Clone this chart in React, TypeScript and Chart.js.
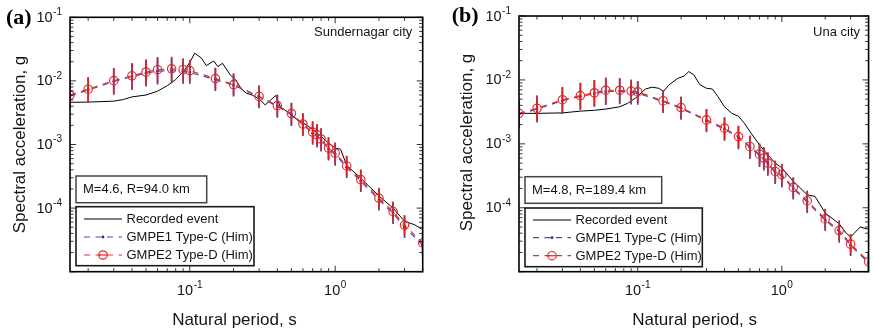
import React, { useEffect, useRef } from 'react';
import { Chart, registerables } from 'chart.js';

Chart.register(...registerables);

// ---------------- DATA ----------------
const PERIODS = [0.015, 0.02, 0.03, 0.04, 0.05, 0.06, 0.075, 0.09, 0.1, 0.15, 0.2, 0.3, 0.4, 0.5, 0.6, 0.7, 0.75, 0.8, 0.9, 1.0, 1.2, 1.5, 2.0, 2.5, 3.0, 4.0];

// Panel (a) Sundernagar city
const GMPE2_A = [6.0e-3, 7.4e-3, 1.01e-2, 1.2e-2, 1.38e-2, 1.5e-2, 1.55e-2, 1.5e-2, 1.45e-2, 1.09e-2, 8.75e-3, 5.7e-3, 4.1e-3, 3.07e-3, 2.1e-3, 1.57e-3, 1.42e-3, 1.22e-3, 8.8e-4, 7.3e-4, 4.6e-4, 2.8e-4, 1.44e-4, 8.8e-5, 5.4e-5, 2.83e-5];
const GMPE1_A = [5.8e-3, 7.2e-3, 9.8e-3, 1.17e-2, 1.32e-2, 1.42e-2, 1.45e-2, 1.4e-2, 1.36e-2, 1.05e-2, 8.6e-3, 5.6e-3, 4.0e-3, 2.95e-3, 2.05e-3, 1.5e-3, 1.36e-3, 1.18e-3, 8.5e-4, 7.0e-4, 4.4e-4, 2.65e-4, 1.35e-4, 8.3e-5, 5.0e-5, 2.6e-5];
const SIG2_A = [0.2, 0.19, 0.2, 0.2, 0.2, 0.2, 0.19, 0.18, 0.17, 0.17, 0.17, 0.17, 0.17, 0.17, 0.17, 0.17, 0.17, 0.17, 0.17, 0.17, 0.16, 0.16, 0.16, 0.16, 0.16, 0.16];
const SIG1_A = [0.21, 0.2, 0.21, 0.21, 0.21, 0.21, 0.2, 0.19, 0.18, 0.18, 0.18, 0.18, 0.18, 0.18, 0.18, 0.18, 0.18, 0.18, 0.18, 0.18, 0.17, 0.17, 0.17, 0.17, 0.17, 0.17];
const REC_T_A = [0.015, 0.02, 0.03, 0.035, 0.04, 0.05, 0.06, 0.07, 0.08, 0.09, 0.1, 0.108, 0.12, 0.13, 0.146, 0.156, 0.168, 0.19, 0.207, 0.225, 0.245, 0.268, 0.3, 0.33, 0.36, 0.39, 0.42, 0.45, 0.5, 0.55, 0.6, 0.7, 0.8, 0.9, 1.0, 1.09, 1.2, 1.5, 2.0, 2.5, 3.0, 3.5, 4.0];
const REC_A = [4.6e-3, 4.65e-3, 4.8e-3, 5.1e-3, 5.6e-3, 6.0e-3, 6.9e-3, 8.4e-3, 1.05e-2, 1.4e-2, 1.95e-2, 2.72e-2, 2.3e-2, 1.74e-2, 2.06e-2, 1.68e-2, 1.89e-2, 1.24e-2, 1.04e-2, 7.6e-3, 6.4e-3, 6.0e-3, 5.2e-3, 4.2e-3, 5.0e-3, 5.9e-3, 3.9e-3, 3.5e-3, 2.9e-3, 2.45e-3, 2.2e-3, 1.74e-3, 1.34e-3, 1.05e-3, 8.8e-4, 8.4e-4, 4.7e-4, 2.95e-4, 1.55e-4, 1.0e-4, 6.2e-5, 5.5e-5, 4.6e-5];

// Panel (b) Una city
const GMPE2_B = [3.0e-3, 3.6e-3, 4.9e-3, 5.7e-3, 6.3e-3, 6.9e-3, 6.9e-3, 6.7e-3, 6.5e-3, 4.7e-3, 3.7e-3, 2.37e-3, 1.76e-3, 1.3e-3, 9.1e-4, 6.9e-4, 6.0e-4, 5.0e-4, 3.7e-4, 3.3e-4, 2.08e-4, 1.29e-4, 6.7e-5, 4.4e-5, 2.7e-5, 1.44e-5];
const GMPE1_B = [2.9e-3, 3.5e-3, 4.75e-3, 5.5e-3, 6.1e-3, 6.6e-3, 6.6e-3, 6.4e-3, 6.2e-3, 4.6e-3, 3.6e-3, 2.3e-3, 1.7e-3, 1.25e-3, 8.8e-4, 6.6e-4, 5.8e-4, 4.8e-4, 3.55e-4, 3.15e-4, 2.0e-4, 1.23e-4, 6.4e-5, 4.2e-5, 2.6e-5, 1.38e-5];
const SIG2_B = [0.2, 0.2, 0.2, 0.2, 0.2, 0.2, 0.19, 0.18, 0.17, 0.17, 0.17, 0.17, 0.17, 0.17, 0.17, 0.17, 0.17, 0.17, 0.17, 0.17, 0.16, 0.16, 0.16, 0.16, 0.16, 0.16];
const SIG1_B = [0.21, 0.21, 0.21, 0.21, 0.21, 0.21, 0.2, 0.19, 0.18, 0.18, 0.18, 0.18, 0.18, 0.18, 0.18, 0.18, 0.18, 0.18, 0.18, 0.18, 0.17, 0.17, 0.17, 0.17, 0.17, 0.17];
const REC_T_B = [0.015, 0.02, 0.03, 0.04, 0.05, 0.06, 0.075, 0.085, 0.0964, 0.113, 0.126, 0.14, 0.151, 0.164, 0.19, 0.21, 0.226, 0.245, 0.27, 0.3, 0.33, 0.36, 0.4, 0.45, 0.5, 0.55, 0.6, 0.7, 0.8, 0.9, 1.0, 1.2, 1.5, 1.7, 2.0, 2.5, 2.8, 3.0, 3.5, 4.0];
const REC_B = [3.0e-3, 3.0e-3, 3.05e-3, 3.25e-3, 3.35e-3, 3.5e-3, 3.8e-3, 4.3e-3, 5.2e-3, 7.2e-3, 7.7e-3, 7.4e-3, 6.6e-3, 8.3e-3, 1.06e-2, 1.15e-2, 1.35e-2, 1.2e-2, 8.4e-3, 7.4e-3, 7.2e-3, 5.5e-3, 3.8e-3, 3.0e-3, 2.7e-3, 2.1e-3, 1.56e-3, 9.6e-4, 6.7e-4, 5.0e-4, 4.2e-4, 2.6e-4, 1.6e-4, 1.5e-4, 8.3e-5, 5.6e-5, 4.0e-5, 3.5e-5, 5.0e-5, 4.6e-5];

const X_MIN = 0.015;
const X_MAX = 4;
const Y_MIN = 1e-5;
const Y_MAX = 1e-1;
const X_LABEL_EXP = [-1, 0];
const Y_LABEL_EXP = [-1, -2, -3, -4];
const LEGEND_LABELS = ['Recorded event', 'GMPE1 Type-C (Him)', 'GMPE2 Type-D (Him)'];
const X_TITLE = 'Natural period, s';
const Y_TITLE = 'Spectral acceleration, g';

// ---------------- STYLE ----------------
const FONT = '"Liberation Sans", Arial, Helvetica, sans-serif';
const RED = '#e62e2e';
const RED_BAR = '#dc2323';
const BLUE = '#4646c0';
const BLUE_BAR = '#46409e';
const TEXT = '#141414';

type PanelCfg = {
  letter: string; city: string; info: string;
  recT: number[]; rec: number[]; g1: number[]; g2: number[]; s1: number[]; s2: number[];
  left: number; width: number;
  area: { left: number; right: number; top: number; bottom: number };
  yTitleX: number; yTitleY: number; xTitleX: number;
  letterX: number; letterY: number; cityRight: number;
  infoBox: { x: number; y: number; w: number; h: number };
  legBox: { x: number; y: number; w: number; h: number; rows: number[] };
};

const PANELS: PanelCfg[] = [
  {
    letter: '(a)', city: 'Sundernagar city', info: 'M=4.6, R=94.0 km',
    recT: REC_T_A, rec: REC_A, g1: GMPE1_A, g2: GMPE2_A, s1: SIG1_A, s2: SIG2_A,
    left: 0, width: 440,
    area: { left: 70, right: 422.7, top: 17.3, bottom: 271.7 },
    yTitleX: 20.8, yTitleY: 144.5, xTitleX: 234.5,
    letterX: 6, letterY: 17.5, cityRight: 412.3,
    infoBox: { x: 76, y: 176, w: 130.7, h: 26.7 },
    legBox: { x: 76, y: 206.7, w: 178, h: 59, rows: [219, 237, 255] },
  },
  {
    letter: '(b)', city: 'Una city', info: 'M=4.8, R=189.4 km',
    recT: REC_T_B, rec: REC_B, g1: GMPE1_B, g2: GMPE2_B, s1: SIG1_B, s2: SIG2_B,
    left: 440, width: 434,
    area: { left: 79, right: 430.7, top: 16, bottom: 271.7 },
    yTitleX: 27.3, yTitleY: 142.5, xTitleX: 254.7,
    letterX: 11.7, letterY: 15, cityRight: 420,
    infoBox: { x: 85, y: 176.7, w: 136.7, h: 26.6 },
    legBox: { x: 85, y: 208, w: 177.3, h: 58.7, rows: [220, 237.7, 255.7] },
  },
];

const H = 333;

function pts(xs: number[], ys: number[]) {
  return xs.map((x, i) => ({ x, y: ys[i] }));
}

function Panel({ cfg }: { cfg: PanelCfg }) {
  const ref = useRef<HTMLCanvasElement>(null);
  useEffect(() => {
    const canvas = ref.current!;
    const errPlugin = {
      id: 'errbars',
      afterDatasetsDraw(chart: any) {
        const { ctx, chartArea: a, scales } = chart;
        const xs = scales.x, ys = scales.y;
        ctx.save();
        ctx.beginPath();
        ctx.rect(a.left, a.top, a.right - a.left, a.bottom - a.top);
        ctx.clip();
        const bars = (vals: number[], sig: number[], color: string) => {
          ctx.strokeStyle = color;
          ctx.lineWidth = 1.7;
          ctx.setLineDash([]);
          PERIODS.forEach((t, i) => {
            const px = xs.getPixelForValue(t);
            const f = Math.pow(10, sig[i]);
            ctx.beginPath();
            ctx.moveTo(px, ys.getPixelForValue(vals[i] / f));
            ctx.lineTo(px, ys.getPixelForValue(vals[i] * f));
            ctx.stroke();
          });
        };
        bars(cfg.g1, cfg.s1, BLUE_BAR);
        bars(cfg.g2, cfg.s2, RED_BAR);
        ctx.restore();
      },
    };
    const decorPlugin = {
      id: 'decor',
      afterDraw(chart: any) {
        const { ctx, chartArea: a, scales } = chart;
        const xs = scales.x, ys = scales.y;
        ctx.save();
        ctx.setLineDash([]);
        // ticks
        ctx.strokeStyle = '#000';
        ctx.lineWidth = 0.8;
        const yTick = (v: number, len: number) => {
          const py = ys.getPixelForValue(v);
          ctx.beginPath();
          ctx.moveTo(a.left, py); ctx.lineTo(a.left + len, py);
          ctx.moveTo(a.right, py); ctx.lineTo(a.right - len, py);
          ctx.stroke();
        };
        const xTick = (v: number, len: number) => {
          const px = xs.getPixelForValue(v);
          ctx.beginPath();
          ctx.moveTo(px, a.bottom); ctx.lineTo(px, a.bottom - len);
          ctx.moveTo(px, a.top); ctx.lineTo(px, a.top + len);
          ctx.stroke();
        };
        for (let e = -5; e <= -1; e++) {
          for (let m = 1; m <= 9; m++) {
            const v = m * Math.pow(10, e);
            if (v < Y_MIN * 0.999 || v > Y_MAX * 1.001) continue;
            yTick(v, m === 1 ? 6 : 3.5);
          }
        }
        for (let e = -2; e <= 0; e++) {
          for (let m = 1; m <= 9; m++) {
            const v = m * Math.pow(10, e);
            if (v < X_MIN * 0.999 || v > X_MAX * 1.001) continue;
            xTick(v, m === 1 ? 6 : 3.5);
          }
        }
        // box
        ctx.lineWidth = 1.6;
        ctx.strokeStyle = '#000';
        ctx.strokeRect(a.left, a.top, a.right - a.left, a.bottom - a.top);

        // tick labels
        ctx.fillStyle = TEXT;
        const baseFont = '14.5px ' + FONT;
        const supFont = '10px ' + FONT;
        ctx.textBaseline = 'middle';
        Y_LABEL_EXP.forEach((e) => {
          const py = ys.getPixelForValue(Math.pow(10, e));
          const sup = String(e);
          ctx.font = supFont;
          const ws = ctx.measureText(sup).width;
          const xEnd = a.left - 8;
          ctx.textAlign = 'left';
          ctx.fillText(sup, xEnd - ws, py - 5);
          ctx.font = baseFont;
          ctx.textAlign = 'right';
          ctx.fillText('10', xEnd - ws - 0.5, py + 0.5);
        });
        X_LABEL_EXP.forEach((e) => {
          const px = xs.getPixelForValue(Math.pow(10, e));
          const sup = String(e);
          ctx.font = supFont;
          const ws = ctx.measureText(sup).width;
          ctx.font = baseFont;
          const w10 = ctx.measureText('10').width;
          const x0 = px - (w10 + ws + 0.5) / 2;
          ctx.textAlign = 'left';
          ctx.fillText('10', x0, 291);
          ctx.font = supFont;
          ctx.fillText(sup, x0 + w10 + 0.5, 285.5);
        });

        // axis titles
        ctx.font = '17px ' + FONT;
        ctx.textAlign = 'center';
        ctx.textBaseline = 'alphabetic';
        ctx.fillText(X_TITLE, cfg.xTitleX, 324.5);
        ctx.save();
        ctx.translate(cfg.yTitleX, cfg.yTitleY);
        ctx.rotate(-Math.PI / 2);
        ctx.textBaseline = 'middle';
        ctx.fillText(Y_TITLE, 0, 0);
        ctx.restore();

        // panel letter
        ctx.font = 'bold 22px "Liberation Serif", "Times New Roman", serif';
        ctx.textAlign = 'left';
        ctx.textBaseline = 'middle';
        ctx.fillStyle = '#000';
        ctx.fillText(cfg.letter, cfg.letterX, cfg.letterY + 1);

        // city
        ctx.font = '13px ' + FONT;
        ctx.fillStyle = TEXT;
        ctx.textAlign = 'right';
        ctx.fillText(cfg.city, cfg.cityRight, 32);

        // info box
        const ib = cfg.infoBox;
        ctx.fillStyle = '#fff';
        ctx.fillRect(ib.x, ib.y, ib.w, ib.h);
        ctx.strokeStyle = '#444';
        ctx.lineWidth = 1.5;
        ctx.strokeRect(ib.x, ib.y, ib.w, ib.h);
        ctx.fillStyle = TEXT;
        ctx.textAlign = 'left';
        ctx.fillText(cfg.info, ib.x + 7, ib.y + ib.h / 2 + 0.5);

        // legend
        const lb = cfg.legBox;
        ctx.fillStyle = '#fff';
        ctx.fillRect(lb.x, lb.y, lb.w, lb.h);
        ctx.strokeStyle = '#1a1a1a';
        ctx.lineWidth = 1.6;
        ctx.strokeRect(lb.x, lb.y, lb.w, lb.h);
        const sx1 = lb.x + 8, sx2 = lb.x + 46, smid = (sx1 + sx2) / 2;
        // row 1
        ctx.strokeStyle = '#000';
        ctx.lineWidth = 1;
        ctx.beginPath(); ctx.moveTo(sx1, lb.rows[0]); ctx.lineTo(sx2, lb.rows[0]); ctx.stroke();
        // row 2
        ctx.strokeStyle = BLUE;
        ctx.lineWidth = 1.2;
        ctx.setLineDash([6, 5.5]);
        ctx.beginPath(); ctx.moveTo(sx1, lb.rows[1]); ctx.lineTo(sx2, lb.rows[1]); ctx.stroke();
        ctx.setLineDash([]);
        ctx.fillStyle = '#2a2a90';
        ctx.beginPath(); ctx.arc(smid, lb.rows[1], 1.4, 0, Math.PI * 2); ctx.fill();
        // row 3
        ctx.strokeStyle = RED;
        ctx.setLineDash([6, 5.5]);
        ctx.beginPath(); ctx.moveTo(sx1, lb.rows[2]); ctx.lineTo(sx2, lb.rows[2]); ctx.stroke();
        ctx.setLineDash([]);
        ctx.lineWidth = 1.2;
        ctx.beginPath(); ctx.arc(smid, lb.rows[2], 4.2, 0, Math.PI * 2); ctx.stroke();
        ctx.beginPath(); ctx.moveTo(smid - 4.2, lb.rows[2]); ctx.lineTo(smid + 4.2, lb.rows[2]); ctx.stroke();
        // labels
        ctx.fillStyle = TEXT;
        ctx.font = '13px ' + FONT;
        ctx.textAlign = 'left';
        ctx.textBaseline = 'middle';
        LEGEND_LABELS.forEach((l, i) => ctx.fillText(l, lb.x + 50.5, lb.rows[i] + 0.5));
        ctx.restore();
      },
    };

    const chart = new Chart(canvas, {
      type: 'scatter',
      data: {
        datasets: [
          {
            label: LEGEND_LABELS[2],
            data: pts(PERIODS, cfg.g2),
            showLine: true,
            borderColor: RED,
            borderWidth: 1.2,
            borderDash: [6, 5.5],
            pointStyle: 'circle',
            pointRadius: 4.2,
            pointBorderWidth: 1.2,
            pointBorderColor: RED,
            pointBackgroundColor: 'rgba(0,0,0,0)',
          },
          {
            label: LEGEND_LABELS[1],
            data: pts(PERIODS, cfg.g1),
            showLine: true,
            borderColor: BLUE,
            borderWidth: 1.2,
            borderDash: [6, 5.5],
            pointRadius: 1.4,
            pointBorderWidth: 0,
            pointBackgroundColor: '#2a2a90',
          },
          {
            label: LEGEND_LABELS[0],
            data: pts(cfg.recT, cfg.rec),
            showLine: true,
            borderColor: '#000',
            borderWidth: 1,
            pointRadius: 0,
          },
        ],
      },
      options: {
        animation: false,
        responsive: false,
        devicePixelRatio: 1,
        layout: {
          padding: { left: 0, top: cfg.area.top, right: cfg.width - cfg.area.right, bottom: 0 },
        },
        plugins: { legend: { display: false }, tooltip: { enabled: false } },
        scales: {
          x: {
            type: 'logarithmic',
            min: X_MIN,
            max: X_MAX,
            grid: { display: false },
            border: { display: false },
            ticks: { display: false },
            afterFit: (s: any) => { s.height = H - cfg.area.bottom; },
          },
          y: {
            type: 'logarithmic',
            min: Y_MIN,
            max: Y_MAX,
            grid: { display: false },
            border: { display: false },
            ticks: { display: false },
            afterFit: (s: any) => { s.width = cfg.area.left; },
          },
        },
      } as any,
      plugins: [errPlugin, decorPlugin],
    });
    return () => chart.destroy();
  }, [cfg]);
  return (
    <canvas
      ref={ref}
      width={cfg.width}
      height={H}
      style={{ position: 'absolute', left: cfg.left, top: 0, width: cfg.width, height: H, display: 'block' }}
    />
  );
}

export default function App() {
  return (
    <div style={{ position: 'absolute', left: 0, top: 0, width: 874, height: H, background: '#fff', overflow: 'hidden' }}>
      {PANELS.map((p) => (
        <Panel key={p.letter} cfg={p} />
      ))}
    </div>
  );
}
